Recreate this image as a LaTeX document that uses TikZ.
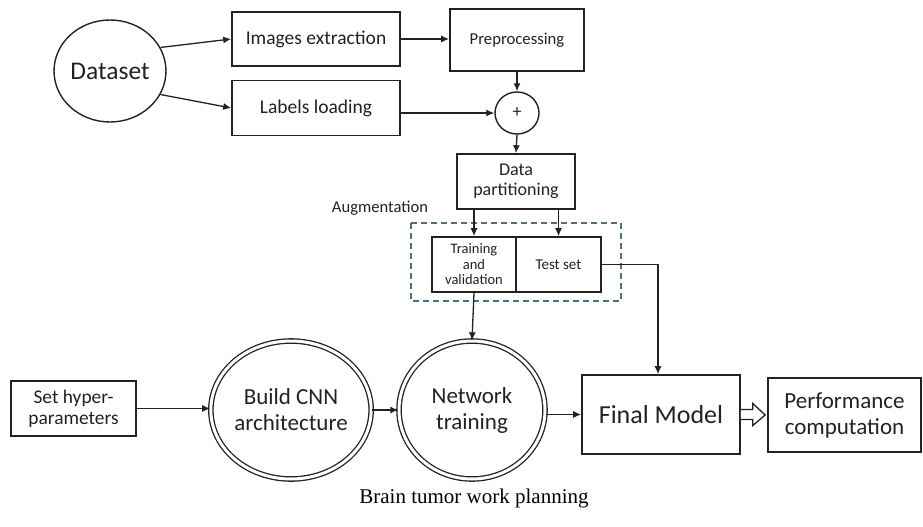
\documentclass[tikz,border=0pt]{standalone}
\usepackage{fontspec}
\setmainfont{Carlito}
\newfontfamily\capfont{Liberation Serif}
\usetikzlibrary{arrows.meta,shapes.geometric,calc}
\definecolor{ink}{HTML}{222222}
\definecolor{dashblue}{HTML}{4F6F86}
\tikzset{
  box/.style={draw=ink, line width=1.6pt, rectangle, inner sep=0pt, text=ink, align=center},
  roundnode/.style={draw=ink, line width=1.4pt, ellipse, inner sep=0pt, text=ink, align=center},
  dbl/.style={draw=ink, line width=1.3pt, ellipse, double=white, double distance=3pt, inner sep=0pt, text=ink, align=center},
  conn/.style={draw=ink, line width=1.3pt, -{Latex[length=8pt,width=7pt]}},
}
\begin{document}
\begin{tikzpicture}[x=1pt,y=-1pt]
\useasboundingbox (0,0) rectangle (923,527);

% top row: data sources
\node[roundnode, minimum width=108, minimum height=102, font=\fontsize{25.5}{28}\selectfont] (ds) at (110,71) {Dataset};
\node[box, minimum width=168, minimum height=54, font=\fontsize{19.5}{22}\selectfont] (img) at (316,39) {Images extraction};
\node[box, minimum width=168, minimum height=55, font=\fontsize{19.5}{22}\selectfont] (lab) at (316,108) {Labels loading};
\node[box, minimum width=134, minimum height=62, font=\fontsize{16.7}{19}\selectfont] (pre) at (517,40) {Preprocessing};
\node[roundnode, minimum width=44, minimum height=42, font=\fontsize{18}{19}\selectfont] (plus) at (517,113) {+};

% partitioning
\node[box, minimum width=118, minimum height=55, font=\fontsize{18}{20}\selectfont] (part) at (516,181.5) {Data\\partitioning};
\node[text=ink, font=\fontsize{16.6}{19}\selectfont] (aug) at (380,208) {Augmentation};
\draw[dashblue, line width=1.4pt, dash pattern=on 6pt off 4pt] (411,223) rectangle (621,301);
\node[box, minimum width=84, minimum height=55, font=\fontsize{14.5}{15.5}\selectfont] (train) at (474,264.5) {Training\\and\\validation};
\node[box, minimum width=85, minimum height=55, font=\fontsize{15}{17}\selectfont] (test) at (558.5,264.5) {Test set};

% bottom row: model building
\node[box, minimum width=125, minimum height=55, font=\fontsize{19.4}{21}\selectfont] (hyp) at (73.5,408.5) {Set hyper-\\parameters};
\node[dbl, minimum width=150, minimum height=138, font=\fontsize{23}{26}\selectfont] (cnn) at (291,410) {Build CNN\\architecture};
\node[dbl, minimum width=146, minimum height=138, font=\fontsize{23}{26}\selectfont] (net) at (472,410) {Network\\training};
\node[box, minimum width=158, minimum height=79, font=\fontsize{26}{29}\selectfont] (final) at (661,414.5) {Final Model};
\node[box, minimum width=153, minimum height=74, font=\fontsize{23}{26}\selectfont] (perf) at (844.5,415) {Performance\\computation};

% connectors
\draw[conn] (ds.25) -- (img.west);
\draw[conn] (ds.-25) -- (lab.west);
\draw[conn] (img.east) -- (img.east -| pre.west);
\draw[conn] (lab.east |- plus.west) -- (plus.west);
\draw[conn] (pre.south) -- (plus.north);
\draw[conn] (plus.south) -- (part.north);
\draw[conn] (train.north |- part.south) -- (train.north);
\draw[conn] (test.north |- part.south) -- (test.north);
\draw[conn] (test.east) -| ($(final.north)+(-3,0)$);
\draw[conn] (train.south) -- (net.north);
\draw[conn] (hyp.east) -- (hyp.east -| cnn.west);
\draw[conn] (cnn.east |- net.west) -- (net.west);
\draw[conn] (net.east |- final.west) -- (final.west);

% hollow block arrow
\draw[ink, line width=1.3pt, fill=white, line join=miter]
  ($(final.east)+(0,-5)$) -- ++(12,0) -- ++(0,-6) -- ($(perf.west)+(-2,0)$)
  -- ($(final.east)+(12,11)$) -- ++(0,-6) -- ++(-12,0);

% caption
\node[font=\capfont\fontsize{21}{24}\selectfont, text=black] (cap) at (474,498) {Brain tumor work planning};
\end{tikzpicture}
\end{document}
